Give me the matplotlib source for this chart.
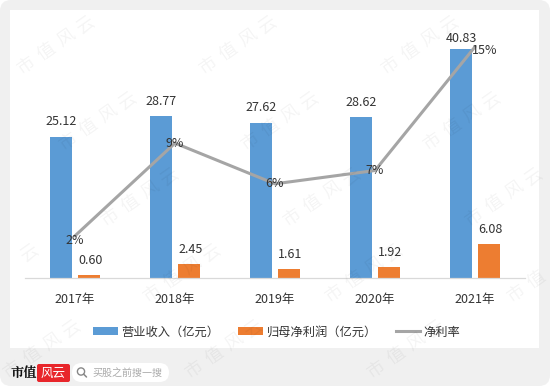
import matplotlib
matplotlib.use('Agg')
import matplotlib.pyplot as plt
from matplotlib.patches import FancyBboxPatch, Rectangle, Circle, Patch
from matplotlib.lines import Line2D
import numpy as np

# ---------------- data ----------------
years = ['2017年', '2018年', '2019年', '2020年', '2021年']
revenue = [25.12, 28.77, 27.62, 28.62, 40.83]          # 营业收入（亿元）
net_profit = [0.60, 2.45, 1.61, 1.92, 6.08]             # 归母净利润（亿元）
net_margin = [2.39, 8.52, 5.83, 6.71, 14.89]            # 净利率 (%)
legend_labels = ['营业收入（亿元）', '归母净利润（亿元）', '净利率']

# ---------------- style ----------------
FONT = ['Noto Sans CJK SC', 'DejaVu Sans']
plt.rcParams['font.family'] = FONT
BLUE = '#5b9bd5'
ORANGE = '#ed7d31'
GRAY = '#a5a5a5'
TXT = '#333333'
W, H = 550, 386
PT = 0.72  # points per pixel at dpi 100

fig = plt.figure(figsize=(W / 100, H / 100), dpi=100)
fig.patch.set_facecolor('white')

# background axes in pixel coordinates (y down)
bg = fig.add_axes([0, 0, 1, 1], zorder=0)
bg.set_xlim(0, W)
bg.set_ylim(H, 0)
bg.axis('off')
bg.add_patch(FancyBboxPatch((0, 0), W, H, boxstyle='round,pad=0,rounding_size=11',
                            fc='#f0f0f0', ec='none'))
bg.add_patch(Rectangle((10, 10), 529, 338, fc='white', ec='none'))

# footer: logo + search pill
bg.text(23.5, 373, '市值', fontsize=9.5, fontweight='bold', color='#111111',
        ha='center', va='center', family=['Noto Serif CJK SC', 'Noto Sans CJK SC', 'DejaVu Sans'])
bg.add_patch(FancyBboxPatch((37, 364), 33, 18, boxstyle='round,pad=0,rounding_size=2',
                            fc='#e8262b', ec='none'))
bg.text(53.5, 373, '风云', fontsize=9, style='italic', color='white', ha='center', va='center')
bg.add_patch(FancyBboxPatch((72, 363), 97, 19, boxstyle='round,pad=0,rounding_size=9.5',
                            fc='white', ec='none'))
bg.add_patch(Circle((81, 371.5), 3.6, fc='none', ec='#888888', lw=1.0))
bg.plot([83.6, 86.5], [374.1, 377.0], color='#888888', lw=1.1, solid_capstyle='round')
bg.text(92, 373, '买股之前搜一搜', fontsize=7.2, color='#aaaaaa', ha='left', va='center')

# ---------------- chart ----------------
x_left, x_right = 25, 525
y_top, y_base = 30, 278
ax = fig.add_axes([x_left / W, 1 - y_base / H, (x_right - x_left) / W, (y_base - y_top) / H], zorder=2)
ax.patch.set_visible(False)
ax2 = ax.twinx()
ax2.patch.set_visible(False)

x = np.arange(len(years))
bw = 0.22
off = 0.14
ax.bar(x - off, revenue, width=bw, color=BLUE, zorder=2)
ax.bar(x + off, net_profit, width=bw, color=ORANGE, zorder=2)

ax.set_xlim(-0.5, len(years) - 0.5)
ax.set_ylim(0, (y_base - y_top) / 5.616)
ax2.set_ylim(-0.397, 16.0)

rev_dy = [15, 15, 15, 15, 10]
for xi, v, dy in zip(x, revenue, rev_dy):
    ax.annotate(f'{v:.2f}', (xi - off, v), xytext=(0, dy * PT), textcoords='offset points',
                ha='center', va='center', fontsize=9, color=TXT)
for xi, v in zip(x, net_profit):
    ax.annotate(f'{v:.2f}', (xi + off, v), xytext=(1, 14.5 * PT), textcoords='offset points',
                ha='center', va='center', fontsize=9, color=TXT)

ax2.plot(x, net_margin, color=GRAY, lw=2.2, zorder=3, solid_capstyle='round')
pct_off = [(0, -5), (0, 0), (0, 0), (0, 0), (10, -4)]
for xi, v, (dx, dy) in zip(x, net_margin, pct_off):
    ax2.annotate(f'{v:.0f}%', (xi, v), xytext=(dx * PT, dy * PT), textcoords='offset points',
                 ha='center', va='center', fontsize=9, color=TXT, zorder=4)

for a in (ax, ax2):
    for s in ('top', 'left', 'right'):
        a.spines[s].set_visible(False)
    a.set_yticks([])
ax2.spines['bottom'].set_visible(False)
ax.spines['bottom'].set_color('#d9d9d9')
ax.spines['bottom'].set_linewidth(0.9)
ax.set_xticks(x)
ax.set_xticklabels(years, fontsize=9, color=TXT)
ax.tick_params(axis='x', length=0, pad=10.5)

handles = [Patch(fc=BLUE, ec='none'), Patch(fc=ORANGE, ec='none'),
           Line2D([0], [0], color=GRAY, lw=2.2)]
fig.legend(handles, legend_labels, loc='center', bbox_to_anchor=(277 / W, 1 - 332 / H),
           ncol=3, frameon=False, fontsize=8.8, handlelength=2.0, handleheight=0.55,
           handletextpad=0.3, columnspacing=1.55, labelcolor=TXT)

# ---------------- watermark ----------------
wm = fig.add_axes([0, 0, 1, 1], zorder=10)
wm.set_xlim(0, W)
wm.set_ylim(H, 0)
wm.axis('off')
ang = np.deg2rad(35)
d = np.array([np.cos(ang), -np.sin(ang)])
for k in range(5):
    for j in range(-1, 4):
        cx = 56 + 42 * k + 182 * j
        cy = 45 + 76 * k
        for i, ch in enumerate('市值风云'):
            px, py = np.array([cx, cy]) + (i - 1.5) * 24 * d
            if 12 <= px <= W - 12 and 12 <= py <= H - 12:
                wm.text(px, py, ch, rotation=35, fontsize=13, color='black', alpha=0.045,
                        ha='center', va='center', fontweight='light')

fig.savefig('out.png', dpi=100)
